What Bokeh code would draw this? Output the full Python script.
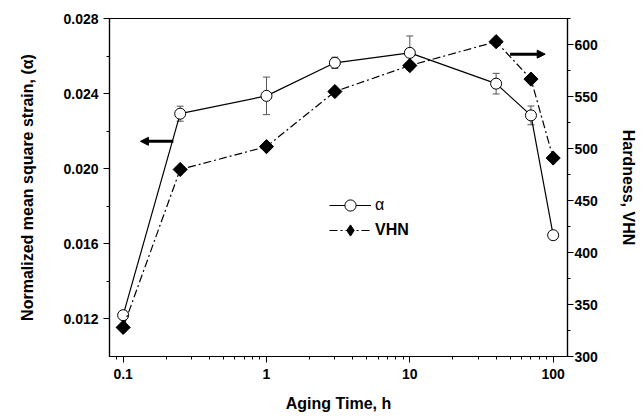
import math
from bokeh.plotting import figure
from bokeh.models import (Range1d, LinearAxis, FixedTicker, ColumnDataSource, Whisker,
                          TeeHead, Arrow, NormalHead, Legend, LegendItem,
                          CustomJSTickFormatter, PrintfTickFormatter)
from bokeh.embed import file_html
from bokeh.resources import INLINE

# Data
aging_time = [0.1, 0.25, 1, 3, 10, 40, 70, 100]
alpha = [0.01220, 0.02293, 0.02388, 0.02564, 0.02617, 0.02453, 0.02284, 0.01646]
alpha_err = [0.0002, 0.0004, 0.0010, 0.0003, 0.0009, 0.00055, 0.0005, 0.0]
vhn = [328, 480, 502, 555, 580, 603, 567, 491]

left_ticks = [0.012, 0.016, 0.020, 0.024, 0.028]
right_ticks = [300, 350, 400, 450, 500, 550, 600]
x_ticks = [0.1, 1, 10, 100]

FONT = "Liberation Sans"

p = figure(width=640, height=416, x_axis_type="log", output_backend="svg",
           toolbar_location=None, x_range=Range1d(0.0803, 125.9),
           y_range=Range1d(0.010, 0.028),
           min_border_left=109, min_border_right=73, min_border_top=18,
           min_border_bottom=60)
p.extra_y_ranges = {"vhn": Range1d(300, 625.3)}

p.grid.visible = False
p.outline_line_color = "black"
p.outline_line_width = 1.2

minor_x = []
for base in [0.01, 0.1, 1, 10]:
    for k in range(2, 10):
        v = base * k
        if 0.0803 <= v <= 125.9:
            minor_x.append(v)

p.xaxis.ticker = FixedTicker(ticks=x_ticks, minor_ticks=minor_x)
p.xaxis.formatter = CustomJSTickFormatter(code="return String(Number(tick.toPrecision(3)));")
p.xaxis.axis_label = "Aging Time, h"

p.yaxis.ticker = FixedTicker(ticks=left_ticks, minor_ticks=[0.014, 0.018, 0.022, 0.026])
p.yaxis.formatter = PrintfTickFormatter(format="%.3f")
p.yaxis.axis_label = "Normalized mean square strain, (\u03b1)"

ax_r = LinearAxis(y_range_name="vhn", axis_label="Hardness, VHN",
                  ticker=FixedTicker(ticks=right_ticks,
                                     minor_ticks=[325, 375, 425, 475, 525, 575, 625]))
p.add_layout(ax_r, "right")

for ax in [p.xaxis[0], p.yaxis[0], ax_r]:
    ax.axis_line_color = "black"
    ax.axis_line_width = 1.2
    ax.major_tick_line_color = "black"
    ax.minor_tick_line_color = "black"
    ax.major_tick_in = 0
    ax.major_tick_out = 6
    ax.minor_tick_in = 0
    ax.minor_tick_out = 3
    ax.major_label_text_font = FONT
    ax.major_label_text_font_style = "bold"
    ax.major_label_text_font_size = "14px"
    ax.major_label_text_color = "black"
    ax.axis_label_text_font = FONT
    ax.axis_label_text_font_style = "bold"
    ax.axis_label_text_font_size = "16px"
    ax.axis_label_text_color = "black"

p.xaxis.major_label_standoff = 6
p.xaxis.axis_label_standoff = 13
p.yaxis.major_label_standoff = 5
p.yaxis.axis_label_standoff = 24
ax_r.major_label_standoff = 1
ax_r.axis_label_standoff = 19

src = ColumnDataSource(dict(x=aging_time, a=alpha, v=vhn,
                            lo=[a - e for a, e in zip(alpha, alpha_err)],
                            hi=[a + e for a, e in zip(alpha, alpha_err)]))

wh = Whisker(source=src, base="x", upper="hi", lower="lo",
             line_color="#555555", line_width=1,
             upper_head=TeeHead(size=7, line_color="#555555", line_width=1),
             lower_head=TeeHead(size=7, line_color="#555555", line_width=1))
p.add_layout(wh)

a_line = p.line("x", "a", source=src, line_color="black", line_width=1.2)
a_mark = p.scatter("x", "a", source=src, marker="circle", size=11,
                   fill_color="white", line_color="black", line_width=1)

v_line = p.line("x", "v", source=src, y_range_name="vhn", line_color="black",
                line_width=1.2, line_dash="8 3 2 3")
# diamond used for the legend glyph; sits hidden beneath the rotated squares
v_leg = p.scatter("x", "v", source=src, y_range_name="vhn", marker="diamond",
                  size=13, fill_color="black", line_color="black")
v_mark = p.scatter("x", "v", source=src, y_range_name="vhn", marker="square",
                   angle=math.pi / 4, size=10, fill_color="black", line_color="black")

# arrows
p.add_layout(Arrow(x_start=0.224, y_start=0.02146, x_end=0.132, y_end=0.02146,
                   line_width=3, line_color="black",
                   end=NormalHead(size=8, fill_color="black", line_color="black")))
p.add_layout(Arrow(x_start=50, y_start=591, x_end=88, y_end=591,
                   y_range_name="vhn", line_width=3, line_color="black",
                   end=NormalHead(size=8, fill_color="black", line_color="black")))

GH = 28

def make_legend(label, renderers, loc, style):
    lg = Legend(items=[LegendItem(label=label, renderers=renderers)],
                location=loc, border_line_color=None, background_fill_alpha=0,
                padding=0, margin=0, spacing=0, glyph_width=42, glyph_height=GH,
                label_height=GH, label_standoff=4,
                label_text_font=FONT, label_text_font_size="16px",
                label_text_font_style=style, label_text_color="black")
    return lg

p.add_layout(make_legend("\u03b1", [a_line, a_mark], (220, 151 - GH // 2), "normal"))
p.add_layout(make_legend("VHN", [v_line, v_leg], (220, 126 - GH // 2), "bold"))

open("out.html", "w").write(file_html(p, INLINE))
